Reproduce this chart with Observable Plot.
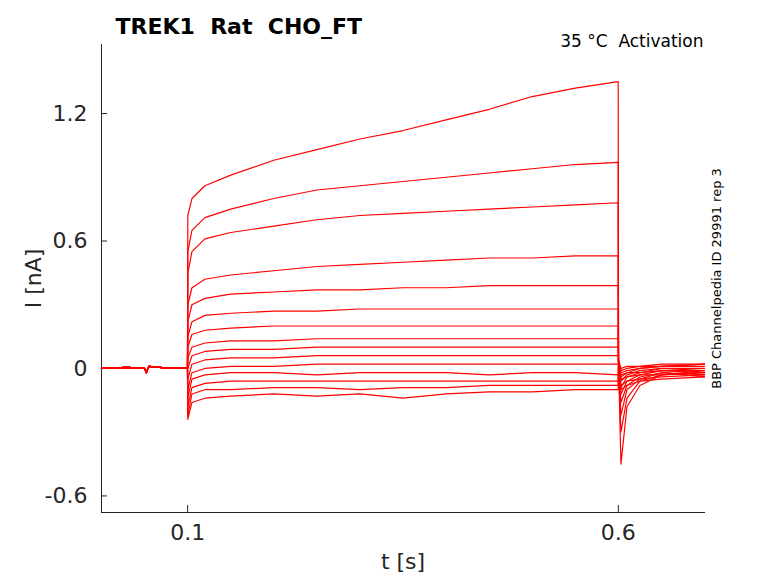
<!DOCTYPE html>
<html><head><meta charset="utf-8">
<script src="https://cdn.jsdelivr.net/npm/d3@7"></script>
<script src="https://cdn.jsdelivr.net/npm/@observablehq/plot@0.6"></script>
<style>body{margin:0;background:#fff;font-family:"DejaVu Sans",sans-serif}</style>
</head><body><div id="c"></div>
<script>
const preTimes = [0, 0.03, 0.05, 0.052, 0.055, 0.08, 0.0998];
const preVals = [0, 0.005, 0, -0.02, 0.01, 0, 0];
const pulseTimes = [0.1002, 0.105, 0.12, 0.15, 0.2, 0.25, 0.3, 0.35, 0.4, 0.45, 0.5, 0.55, 0.5998];
const tailTimes = [0.6002, 0.603, 0.61, 0.625, 0.65, 0.7];
const traces = [
  [0.72,0.80,0.86,0.91,0.98,1.03,1.08,1.12,1.17,1.22,1.28,1.32,1.35],
  [0.55,0.65,0.71,0.75,0.80,0.84,0.86,0.88,0.90,0.92,0.94,0.96,0.97],
  [0.45,0.55,0.61,0.64,0.67,0.70,0.72,0.73,0.74,0.75,0.76,0.77,0.78],
  [0.30,0.38,0.42,0.44,0.46,0.48,0.49,0.50,0.51,0.52,0.52,0.53,0.53],
  [0.22,0.30,0.33,0.35,0.36,0.37,0.37,0.38,0.38,0.39,0.39,0.39,0.39],
  [0.15,0.22,0.25,0.26,0.27,0.27,0.28,0.28,0.28,0.28,0.28,0.28,0.28],
  [0.10,0.16,0.18,0.19,0.20,0.20,0.20,0.20,0.20,0.20,0.20,0.20,0.20],
  [0.05,0.10,0.12,0.13,0.13,0.14,0.14,0.14,0.14,0.14,0.14,0.14,0.14],
  [0.00,0.06,0.08,0.09,0.09,0.10,0.10,0.10,0.10,0.10,0.10,0.10,0.10],
  [-0.05,0.02,0.04,0.05,0.05,0.06,0.06,0.06,0.06,0.06,0.06,0.06,0.06],
  [-0.10,-0.02,0.00,0.01,0.01,0.02,0.02,0.02,0.02,0.02,0.02,0.02,0.02],
  [-0.14,-0.05,-0.03,-0.02,-0.02,-0.03,-0.02,-0.02,-0.02,-0.03,-0.02,-0.02,-0.03],
  [-0.18,-0.09,-0.07,-0.06,-0.06,-0.06,-0.06,-0.06,-0.06,-0.06,-0.06,-0.06,-0.06],
  [-0.22,-0.12,-0.10,-0.10,-0.09,-0.09,-0.10,-0.09,-0.09,-0.08,-0.08,-0.08,-0.08],
  [-0.24,-0.16,-0.14,-0.13,-0.12,-0.13,-0.12,-0.14,-0.12,-0.11,-0.11,-0.10,-0.10]
];
const tails = [
  [0.02,-0.45,-0.18,-0.08,-0.03,-0.01],
  [0.02,-0.30,-0.14,-0.06,-0.03,-0.02],
  [0.03,-0.22,-0.10,-0.05,-0.02,-0.03],
  [0.03,-0.16,-0.08,-0.04,-0.02,-0.04],
  [0.03,-0.12,-0.06,-0.03,-0.01,-0.02],
  [0.03,-0.09,-0.04,-0.02,0.00,-0.01],
  [0.03,-0.06,-0.03,-0.01,0.00,0.00],
  [0.03,-0.04,-0.02,0.00,0.01,0.01],
  [0.03,-0.02,-0.01,0.00,0.01,0.02],
  [0.03,-0.01,0.00,0.01,0.01,0.02],
  [0.04,0.00,0.01,0.01,0.02,0.02],
  [0.03,-0.03,-0.02,-0.02,-0.01,-0.01],
  [0.02,-0.05,-0.04,-0.03,-0.03,-0.02],
  [0.02,-0.08,-0.06,-0.05,-0.04,-0.03],
  [0.02,-0.10,-0.08,-0.06,-0.05,-0.04]
];
const xTicks = [0.1, 0.6];
const yTicks = [-0.6, 0, 0.6, 1.2];
const title = "TREK1  Rat  CHO_FT";
const note = "35 °C  Activation";
const side = "BBP Channelpedia ID 29991 rep 3";

const data = [];
traces.forEach((tr, k) => {
  preTimes.forEach((t, i) => data.push({k, t, v: preVals[i]}));
  pulseTimes.forEach((t, i) => data.push({k, t, v: tr[i]}));
  tailTimes.forEach((t, i) => data.push({k, t, v: tails[k][i]}));
});

const chart = Plot.plot({
  width: 778, height: 583,
  marginLeft: 101, marginRight: 74, marginTop: 44, marginBottom: 71,
  style: {fontFamily: "DejaVu Sans, sans-serif", fontSize: "22px", color: "#262626"},
  x: {domain: [0, 0.7]},
  y: {domain: [-0.678, 1.525]},
  marks: [
    Plot.frame({anchor: "left", stroke: "#262626"}),
    Plot.frame({anchor: "bottom", stroke: "#262626"}),
    Plot.axisX(xTicks, {tickSize: 0, tickPadding: 12, fontSize: 22, label: "t [s]", labelAnchor: "center", labelArrow: "none", labelOffset: 56, tickFormat: d => String(d)}),
    Plot.axisY(yTicks, {tickSize: 0, tickPadding: 14, fontSize: 22, label: "I [nA]", labelAnchor: "center", labelArrow: "none", labelOffset: 76, tickFormat: d => String(d)}),
    Plot.ruleX(xTicks, {x: d => d, y1: -0.678, y2: -0.645, stroke: "#262626"}),
    Plot.ruleY(yTicks, {y: d => d, x1: 0, x2: 0.007, stroke: "#262626"}),
    Plot.line(data, {x: "t", y: "v", z: "k", stroke: "red", strokeWidth: 1.2}),
    Plot.text([title], {frameAnchor: "top-left", dx: 14, dy: -26, fontSize: 22, fontWeight: "bold", fill: "black", textAnchor: "start"}),
    Plot.text([note], {frameAnchor: "top-right", dy: -10, dx: -1, fontSize: 17, fill: "black", textAnchor: "end"}),
    Plot.text([side], {frameAnchor: "right", dx: 12, rotate: -90, fontSize: 13, fill: "black", textAnchor: "middle"})
  ]
});
document.getElementById("c").appendChild(chart);
</script></body></html>
